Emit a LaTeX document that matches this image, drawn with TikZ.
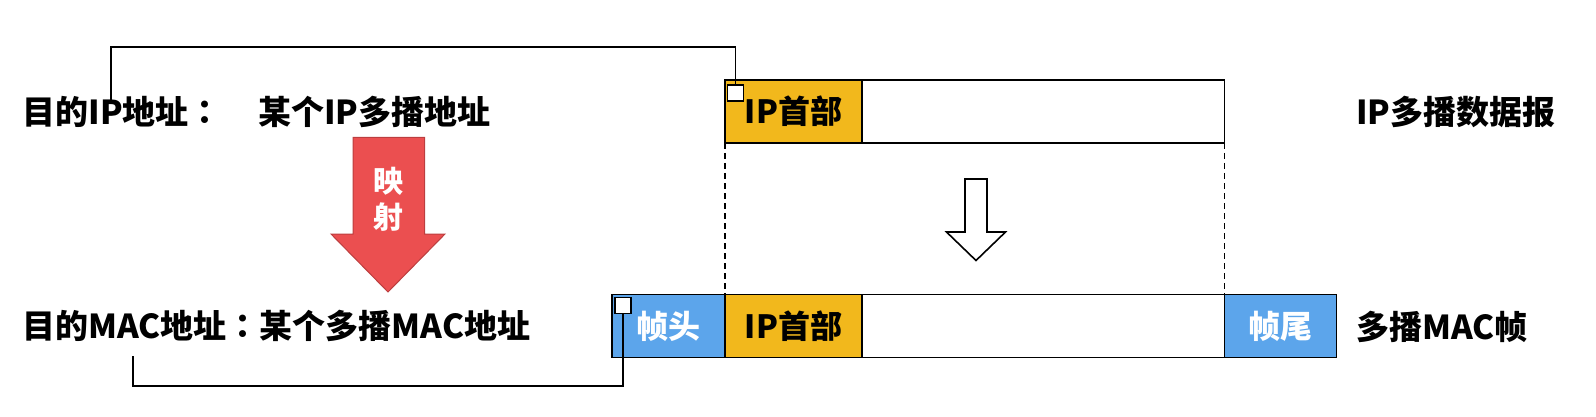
\documentclass[tikz,border=0pt]{standalone}
\usepackage{fontspec}
\setmainfont{Noto Sans CJK SC}
\newfontfamily\tcfont{Noto Sans CJK TC}
\usepackage{tikz}
\definecolor{hdryellow}{HTML}{F2B81C}
\definecolor{frameblue}{HTML}{5CA5EB}
\definecolor{mapred}{HTML}{EB4F50}
\definecolor{mapredborder}{HTML}{BC3E3F}
% centred full-width colon
\newcommand{\midcolon}{{\tcfont ：}}

\begin{document}
\begin{tikzpicture}[x=1pt,y=-1pt,line join=miter,
  field/.style={draw,line width=1.6pt,inner sep=0pt,outer sep=0pt,minimum height=63pt,
    font=\fontsize{32}{36}\selectfont\bfseries},
  tag/.style={draw,fill=white,line width=1.4pt,inner sep=0pt,outer sep=0pt,minimum size=16pt},
  link/.style={line width=1.3pt},
  lbl/.style={font=\fontsize{33}{37}\selectfont\bfseries,inner sep=0pt}]
  \useasboundingbox (0,0) rectangle (1596,417);
% IP datagram
  \node[field,fill=hdryellow,minimum width=137pt] (iphdrA) at (793.5,111.5) {IP首部};
  \node[field,fill=white,minimum width=362.5pt,anchor=west] (dataA) at (iphdrA.east) {};
% multicast MAC frame
  \node[field,fill=hdryellow,minimum width=137pt] (iphdrB) at (793.5,326) {IP首部};
  \node[field,fill=white,minimum width=362.5pt,anchor=west] (dataB) at (iphdrB.east) {};
  \node[field,fill=frameblue,minimum width=113pt,anchor=east,text=white] (fhead) at (iphdrB.west) {帧头};
  \node[field,fill=frameblue,minimum width=112pt,anchor=west,text=white] (ftail) at (dataB.east) {帧尾};
  \node[tag,anchor=north west] (tagA) at ([shift={(2.5,5)}]iphdrA.north west) {};
  \node[tag,anchor=north west] (tagB) at ([shift={(3,3)}]fhead.north west) {};
  \draw[dashed,line width=1.3pt,dash pattern=on 6pt off 4pt] (iphdrA.south west) -- (iphdrB.north west)
       (dataA.south east) -- (dataB.north east);
% labels
  \node[lbl,anchor=west] (dstip) at (22.4,111.5) {目的IP地址\midcolon};
  \node[lbl,anchor=west] (mcip) at (258,111.5) {某个IP多播地址};
  \node[lbl,anchor=west] (dstmac) at (22.4,326) {目的MAC地址\midcolon 某个多播MAC地址};
  \node[lbl,anchor=west] (dgram) at (1356,112) {IP多播数据报};
  \node[lbl,anchor=west] (mframe) at (1356,327) {多播MAC帧};
% brackets
  \coordinate (srcA) at (111,104);
  \coordinate (srcB) at (133,356);
  \draw[link] (srcA) -- ++(0,-57) -| (tagA.north);
  \draw[link] (tagB.south) -- ++(0,72.5) -| (srcB);
% mapping arrow
  \draw[fill=mapred,draw=mapredborder,line width=1pt] (353,137.5) -- (424.5,137.5) -- (424.5,234) -- (445,234)
       -- (388,292) -- (331,234) -- (353,234) -- cycle;
  \node[lbl,text=white,align=center,font=\fontsize{30}{34}\selectfont\bfseries] (mapping) at (388.5,199) {映\\[2pt]射};
% hollow arrow
  \draw[line width=1.6pt,fill=white] (965,179) -- (987,179) -- (987,232) -- (1005.5,232)
       -- (976,260.5) -- (946.5,232) -- (965,232) -- cycle;
\end{tikzpicture}
\end{document}
